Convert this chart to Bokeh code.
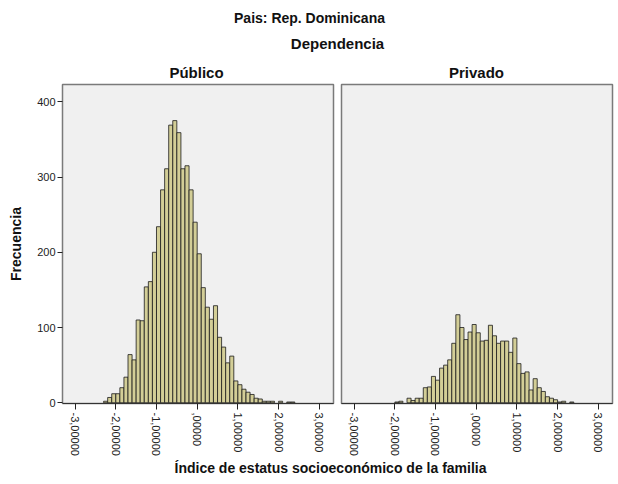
import math
from bokeh.plotting import figure
from bokeh.layouts import column, row
from bokeh.models import FixedTicker, Range1d
from bokeh.core.properties import value
from bokeh.embed import file_html
from bokeh.resources import INLINE

# ---------------- data ----------------
title_main = "Pais: Rep. Dominicana"
title_group = "Dependencia"
panel_names = ["Público", "Privado"]
x_label = "Índice de estatus socioeconómico de la familia"
y_label = "Frecuencia"

bin_width = 0.1

publico_bins = [-2.3, -2.2, -2.1, -2.0, -1.9, -1.8, -1.7, -1.6, -1.5, -1.4,
                -1.3, -1.2, -1.1, -1.0, -0.9, -0.8, -0.7, -0.6, -0.5, -0.4,
                -0.3, -0.2, -0.1, 0.0, 0.1, 0.2, 0.3, 0.4, 0.5, 0.6,
                0.7, 0.8, 0.9, 1.0, 1.1, 1.2, 1.3, 1.4, 1.5, 1.6,
                1.7, 1.8, 1.9, 2.0, 2.1, 2.2, 2.3]
publico_counts = [2, 7, 12, 12, 20, 34, 64, 57, 110, 109,
                  154, 161, 200, 234, 283, 311, 369, 375, 359, 311,
                  315, 283, 240, 198, 153, 127, 111, 129, 87, 74,
                  53, 62, 29, 24, 18, 14, 11, 6, 5, 2,
                  2, 2, 0, 2, 0, 1, 1]

privado_bins = [-2.0, -1.9, -1.8, -1.7, -1.6, -1.5, -1.4, -1.3, -1.2, -1.1,
                -1.0, -0.9, -0.8, -0.7, -0.6, -0.5, -0.4, -0.3, -0.2, -0.1,
                0.0, 0.1, 0.2, 0.3, 0.4, 0.5, 0.6, 0.7, 0.8, 0.9,
                1.0, 1.1, 1.2, 1.3, 1.4, 1.5, 1.6, 1.7, 1.8, 1.9,
                2.0, 2.1, 2.2, 2.3]
privado_counts = [1, 2, 0, 6, 3, 6, 6, 20, 21, 35,
                  30, 46, 50, 57, 79, 117, 100, 84, 94, 104,
                  93, 82, 83, 103, 89, 79, 82, 82, 67, 86,
                  52, 39, 41, 17, 32, 20, 15, 8, 6, 4,
                  1, 2, 0, 1]

x_ticks = [-3, -2, -1, 0, 1, 2, 3]
x_tick_labels = ["-3,00000", "-2,00000", "-1,00000", ",00000", "1,00000", "2,00000", "3,00000"]
y_ticks = [0, 100, 200, 300, 400]
y_tick_labels = ["0", "100", "200", "300", "400"]

# ---------------- style ----------------
FONT = "Liberation Sans"
BAR_FILL = "#D3CE97"
PANEL_BG = "#F0F0F0"
FRAME = "#7a7a7a"
FRAME_W = 271
TOTAL_W = 618


def make_panel(bins, counts, show_y, b_left, b_right):
    p = figure(width=b_left + FRAME_W + b_right, height=376,
               x_range=Range1d(-3.31, 3.35), y_range=Range1d(-1, 423),
               output_backend="svg", toolbar_location=None,
               min_border_left=b_left, min_border_right=b_right,
               min_border_top=2, min_border_bottom=52,
               background_fill_color=PANEL_BG, border_fill_color="white",
               outline_line_color=FRAME, outline_line_width=1.5)
    p.xgrid.visible = False
    p.ygrid.visible = False
    lefts = [b for b, c in zip(bins, counts) if c > 0]
    rights = [b + bin_width for b, c in zip(bins, counts) if c > 0]
    tops = [c for c in counts if c > 0]
    p.quad(left=lefts, right=rights, bottom=0, top=tops,
           fill_color=BAR_FILL, line_color="#1a1a1a", line_width=0.8)

    xa = p.xaxis[0]
    xa.ticker = FixedTicker(ticks=x_ticks)
    xa.major_label_overrides = dict(zip(x_ticks, x_tick_labels))
    xa.major_label_orientation = -math.pi / 2
    xa.major_label_text_font = FONT
    xa.major_label_text_font_size = "11px"
    xa.major_label_text_color = "#222222"
    xa.major_tick_in = 0
    xa.major_tick_out = 6
    xa.major_tick_line_color = "#222222"
    xa.minor_tick_line_color = None
    xa.axis_line_color = "#333333"
    xa.major_label_standoff = 3

    ya = p.yaxis[0]
    if show_y:
        ya.ticker = FixedTicker(ticks=y_ticks)
        ya.major_label_overrides = dict(zip(y_ticks, y_tick_labels))
        ya.major_label_text_font = FONT
        ya.major_label_text_font_size = "11px"
        ya.major_label_text_color = "#222222"
        ya.major_tick_in = 0
        ya.major_tick_out = 5
        ya.major_tick_line_color = "#222222"
        ya.minor_tick_line_color = None
        ya.axis_line_color = FRAME
        ya.major_label_standoff = 2
        ya.axis_label = y_label
        ya.axis_label_text_font = FONT
        ya.axis_label_text_font_style = "bold"
        ya.axis_label_text_font_size = "14px"
        ya.axis_label_text_color = "#111111"
        ya.axis_label_standoff = 10
    else:
        ya.visible = False
    return p


def text_fig(h):
    f = figure(width=TOTAL_W, height=h, x_range=Range1d(0, TOTAL_W), y_range=Range1d(0, h),
               output_backend="svg", toolbar_location=None,
               x_axis_location=None, y_axis_location=None,
               min_border=0, outline_line_color=None,
               background_fill_color="white", border_fill_color="white")
    f.xgrid.visible = False
    f.ygrid.visible = False
    return f


header = text_fig(82)
header.text(x=[309], y=[65], text=[title_main], text_font=value(FONT), text_font_style="bold",
            text_font_size="14px", text_align="center", text_baseline="middle", text_color="#111111")
header.text(x=[337], y=[39], text=[title_group], text_font=value(FONT), text_font_style="bold",
            text_font_size="15px", text_align="center", text_baseline="middle", text_color="#111111")
header.text(x=[196, 476], y=[10, 10], text=panel_names, text_font=value(FONT), text_font_style="bold",
            text_font_size="15px", text_align="center", text_baseline="middle", text_color="#111111")

left = make_panel(publico_bins, publico_counts, True, 62, 4)
right = make_panel(privado_bins, privado_counts, False, 4, 6)

footer = text_fig(26)
footer.text(x=[330], y=[17], text=[x_label], text_font=value(FONT), text_font_style="bold",
            text_font_size="14px", text_align="center", text_baseline="middle", text_color="#111111")

layout = column(header, row(left, right, spacing=0), footer, spacing=0)

open("out.html", "w").write(file_html(layout, INLINE))
